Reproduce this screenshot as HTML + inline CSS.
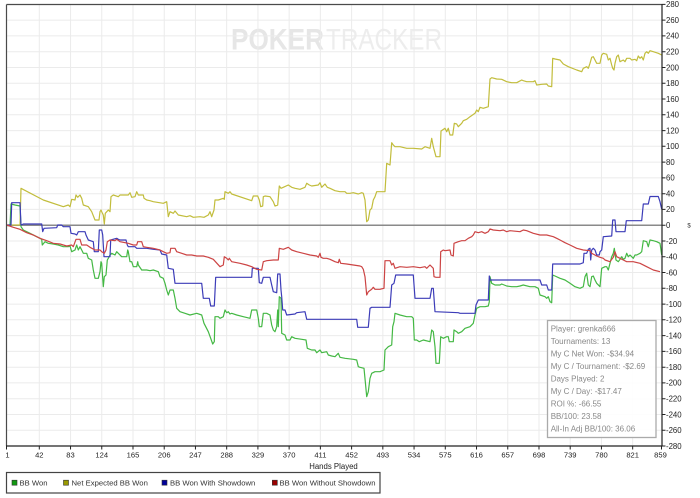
<!DOCTYPE html>
<html><head><meta charset="utf-8"><style>
html,body{margin:0;padding:0;background:#fff;}
svg{display:block;}
text{font-family:"Liberation Sans",Arial,sans-serif;}
</style></head><body>
<svg width="700" height="498" viewBox="0 0 700 498" xmlns="http://www.w3.org/2000/svg">
<rect width="700" height="498" fill="#fff"/>
<text x="231" y="49.3" font-size="30" font-weight="bold" fill="#e6e6e6" textLength="93" lengthAdjust="spacingAndGlyphs">POKER</text>
<text x="326" y="49.3" font-size="30" fill="#ededed" textLength="116" lengthAdjust="spacingAndGlyphs">TRACKER</text>
<path stroke="#ebebeb" stroke-width="1" fill="none" d="M39.3 4.5V446M70.53 4.5V446M101.76 4.5V446M132.99 4.5V446M164.22 4.5V446M195.45 4.5V446M226.68 4.5V446M257.91 4.5V446M289.14 4.5V446M320.37 4.5V446M351.6 4.5V446M382.83 4.5V446M414.06 4.5V446M445.29 4.5V446M476.52 4.5V446M507.75 4.5V446M538.98 4.5V446M570.21 4.5V446M601.44 4.5V446M632.67 4.5V446
M6.5 20.1H662M6.5 35.9H662M6.5 51.7H662M6.5 67.5H662M6.5 83.2H662M6.5 99H662M6.5 114.8H662M6.5 130.6H662M6.5 146.3H662M6.5 162.1H662M6.5 177.9H662M6.5 193.7H662M6.5 209.4H662M6.5 241H662M6.5 256.7H662M6.5 272.5H662M6.5 288.3H662M6.5 304.1H662M6.5 319.8H662M6.5 335.6H662M6.5 351.4H662M6.5 367.2H662M6.5 382.9H662M6.5 398.7H662M6.5 414.5H662M6.5 430.3H662"/>
<line x1="6.5" y1="225.2" x2="662" y2="225.2" stroke="#8a8a8a" stroke-width="1.5"/>
<g fill="none" stroke-width="1.2" stroke-linejoin="round">
<polyline stroke="#c2bd3c" points="6.5,225 20,225 21,188.3 43.3,200 63.3,206.7 68.3,205 70,206.7 71.7,199.3 75,200 76,195 77.7,197.3 80,195 81.7,198.3 83.3,205 88.3,206.7 91.7,211.7 95,220 99,220 100,211.7 101,210 101.7,211.7 103.3,215 104.3,224 105.3,213.3 108.3,210 110,211.7 111,196.7 113.3,195 118.3,196.7 120,195 128.3,195 130,192.7 131.7,197.3 135,196.7 136.7,191.7 138.3,195 143.3,195 144,198.3 146.7,200 150,200.7 153.3,201.7 163.3,203.3 166.7,201.7 168.3,216.7 170,211.7 173.3,213.3 175,211 178.3,215 186.7,216.7 190,215.7 193.3,217.3 200,216.7 204,217.3 208.3,215 210,211.7 211.7,216.7 214,210 215,200 218.3,200 223.3,198.3 224.3,199.3 225,191.7 228.3,193.3 230,191.7 231.7,194 251.7,200.7 253.3,196 257.7,196 259.3,200 260.7,206.7 262.7,206 263.3,196.7 265,196 270,196.7 273.3,201.7 275,206 277.7,205 279.3,186 281,188.3 283.3,187.3 288.3,185 291.7,187.3 295,188.3 300,189.3 305,187.3 306.7,183.3 309.3,185 311.7,186 318.3,185 320,182.7 321.7,187.3 325,184 327.3,187.3 330,188.3 335,190.7 340,191.7 345,191.7 346.7,193.3 350,193.3 353.3,192.7 358.3,194 361.7,192.7 363.3,193.3 365,200 366.7,221.7 368.3,220 370,210 371.7,208.3 373.3,200 375,196.7 376.7,191.7 385,191.7 386.7,163.3 390,165 391.7,142.7 393.3,145 395,146.7 400,146.7 406.7,148.3 413.3,148.3 421.7,149 425,146.7 430,148.3 431.7,138.3 433.3,146.7 436,156.7 440,156.7 441,131 445,128.3 446.7,131.7 448.3,128.3 450,135 452.7,135 454.3,123.3 456.7,124 458.3,126.7 461.7,123.3 463.3,120.7 466.7,119.3 470,116.7 475,113.3 476.7,110 478.3,111.7 480,107.3 483.3,108.3 488.3,106.7 490,79 491.7,77.7 496.7,79 501.7,79.3 506.7,81.7 511.7,82.7 516.7,82.7 521.7,80 523.3,80.7 526.7,81.7 533.3,81.7 535,80.7 536.7,85 541.7,84.3 546.7,84 548.3,86 551.7,86.7 552.7,58.3 555,59 560,60 563.3,64 568.3,66.7 576.7,70 581.7,71.7 583.3,68.3 586.7,66.7 588.3,68.3 590,63.3 591.7,57.3 593.3,56.7 595,60 596.7,63.3 600,63.3 601.7,55 603.3,53.3 606.7,54.3 608.3,60 610,58.3 611.7,65 612.7,68.3 614,70 615,63.3 616.7,56.7 618.3,55 620,61.7 623.3,60 625,61.7 626.7,58.3 630,58.3 631.7,60 635,59.3 636.7,60.7 638.3,56 640,58.3 641.7,56.7 643.3,60 645,53.3 646.7,51.7 648.3,53.3 650,50.7 653.3,51.7 658.3,53.3 661.7,55"/>
<polyline stroke="#44b844" points="6.7,225.7 10,225.7 11,204 15,205 20,206 21,226.7 23.3,230 30,233.3 36.7,236.7 40,238.3 41.7,239.3 42.3,245 45,241.7 48.3,243.3 53.3,244 58.3,245 63.3,246.7 68.3,246.7 70,246 71.7,251.7 75,250 76.7,245 78.3,250 80,246.7 81.7,250 83.3,253.3 86.7,253.3 88.3,258.3 91.7,260 93.3,270 95,278.3 98.3,278.3 100,271.7 101,261.7 101.7,263.3 103.3,286.7 104.3,276.7 106,275 107.3,260 108.3,258.3 110,255 111.7,253.3 115,255 116.7,251.7 118.3,253.3 121.7,256.7 126.7,256.7 127.7,250 128.3,251.7 130,261.7 131.7,261.7 133.3,266.7 136.7,266.7 137.7,261.7 138.3,265 141.7,270 146.7,270 150,270.7 153.3,270 158.3,271.7 160,276.7 163.3,278.3 165,283.3 166.7,290 168.3,295 170,290 173.3,290 175,298.3 176.7,308.3 180,311.7 185,313.3 190,315 196.7,313.3 201.7,315 204,323.3 208.3,331.7 210.7,338.3 212.7,344 214.3,341.7 215,316.7 218.3,316.7 220,318.3 223.3,316.7 225,310 226.7,312.7 228.3,311.7 230,314 231.7,313.3 236.7,315 243.3,316.7 250,318.3 251.7,310 256.7,310 258.3,318.3 259.3,326.7 261.7,326.7 263.3,313.3 266.7,313.3 270,315 271.7,325 273.3,330 275,331.7 276.7,326.7 277.7,310 278.3,326.7 279.3,296.7 281,298.3 281.7,333.3 285,335 286.7,340 290,340 291.7,336.7 295,338.3 301.7,339.3 306,340 307.3,348.3 311.7,350 315,350 316.7,352.7 320,350 321.7,352.7 326.7,351.7 328.3,355 331.7,356 335,356.7 338.3,353.3 340,357.3 345,358.3 353.3,359.3 356.7,360 358.3,366.7 360,367.3 364,368.3 365.3,381.7 366.7,396.7 368.3,391.7 370,378.3 371.7,373.3 375,371.7 380,371.7 384,370 385,350 388.3,346.7 391.7,345 392.7,326.7 394,321.7 395,313.3 400,315 406.7,316.7 411.7,316.7 413.3,318.3 414.3,340 416.7,340 419.3,341.7 423.3,340 430,341.7 431.7,330 433.3,331.7 435,346.7 436,363.3 439.3,363.3 440.7,336.7 443.3,338.3 446.7,336.7 448.3,336.7 449.3,341.7 453.3,341.7 454,330 456.7,331.7 458.3,333.3 461.7,331.7 465,328.3 470,326.7 473.3,323.3 475,315 476.7,308.3 480,306.7 485,306.7 488.3,306 489.3,301.7 490,276.7 491.7,283.3 495,285 500,285 501.7,284 506.7,286 511.7,286.7 516.7,286.7 520,286 523.3,285 530,286.7 535,286.7 538.3,288.3 540,295 545,296.7 546.7,298.3 548.3,296.7 550,301.7 551.7,302.7 552.7,275 555,276 560,278.3 565,280 570,283.3 575,286.7 580,288.3 583.3,286.7 585,276.7 586.7,273.3 588.3,285 590,286.7 591.7,276.7 593.3,276 595,280 596.7,283.3 600,286.7 601.7,268.3 605,266.7 606.7,266.7 608.3,270 610,263.3 611.7,256.7 613.3,253.3 614.3,248.3 616,260 618.3,261.7 620,259.3 621.7,256.7 623.3,259.3 625,258.3 626.7,253.3 628.3,256.7 630,255 631.7,256.7 633.3,258.3 635,255 636.7,255 640,253.3 641.7,251.7 643.3,240.7 646.7,241.7 648.3,246.7 650,240 653.3,240.7 656.7,241.7 660,243.3 661.7,255"/>
<polyline stroke="#3c3cb8" points="6.7,225 11,225 11.7,202.7 20,202.7 21,225 23.3,224 40,224 41.7,224 42.7,231.7 44,228.3 56.7,227.7 57.7,225 61.7,225 63.3,226.7 70,226.7 71,233.3 75,234 76.7,235 78.3,231.7 85,231.7 86,235 88.3,240 93.3,241.7 94.3,251.7 98.3,251.7 99.3,230 101.7,230 102.7,235 104,256.7 110,256.7 110.7,240 116.7,238.3 118.3,239.3 120,240 126,240 127.3,245 128.3,246.7 135,246.7 136.7,248.3 146.7,248.3 153.3,249.3 160,250 161.7,254 166.7,255 168.3,268.3 173.3,269.3 175,283.3 186.7,283.3 201.7,283.3 203.3,298.3 209.3,298.3 210.7,306 214.3,306 215.7,277.3 230,277.3 251.7,277.3 252.3,268.3 258.3,268.3 259.3,282.7 261.7,283.3 263.3,277.3 270,277.3 271.7,285 273.3,291.7 276.7,292.7 277.7,274 280,274 281,290 281.7,296.7 282.7,310 285,310 286.7,315 295,314 296.7,312.7 305,311.7 306.7,319.3 320,319.3 356.7,319.3 357.7,327.3 368.3,327.3 370,308.3 371.7,307.3 390,307.3 391.7,285 394,283.3 395.7,275 413.3,275 415,298.3 430,298.3 431.7,288.3 433.3,288.3 435,311.7 458.3,312.7 460,313.3 475,313.3 476,305 478.3,300 488.3,300 489.3,276 490,280 540,280 541.7,285 546.7,285 548.3,290 551.7,290 552.7,264 580,264 583.3,262.7 584,253.3 586.7,253.3 588.3,249.3 590,248.3 590.7,260 591.7,250 593.3,248.3 595,250 596.7,255 599.3,255 600,251.7 601.7,250 603.3,236.7 611.7,236 612.7,220 615,220 616,231.7 625,231.7 626.3,220.7 641.7,220.7 643.3,204 648.3,204 650,196.5 658.3,196.5 660,201.7 661.7,209.3"/>
<polyline stroke="#cc4444" points="6.7,225 13.3,227.3 20,229.3 26.7,232.7 33.3,235 40,238.3 46.7,240.7 53.3,243.3 60,244 66.7,246 71.7,245 73.3,246.7 76,239.3 80,239.3 81.7,245 86.7,245 90,247.3 95,250 100,250 101.7,251.7 104.3,253.3 106,250 107.3,241.7 110,240 115,240.7 116.7,239.3 120,241.7 128.3,243.3 133.3,245 136.7,245 137.7,241.7 141.7,241.7 143.3,246.7 146.7,247.3 153.3,248.3 160,250 163.3,251.7 166.7,253.3 170,252.7 170.7,248.3 175,248.3 176.7,251.7 181.7,253.3 186.7,255 191.7,255 196.7,256 203.3,256 208.3,257.3 213.3,259.3 220,266.7 223.3,265 224.3,256.7 226.7,258.3 228.3,260 229.3,258.3 231.7,261.7 240,263.3 246.7,265 251.7,266.7 256.7,269.3 261.7,270 263.3,261.7 266.7,260.7 273.3,260 278.3,260 279.3,248.3 283.3,249.3 288.3,247.3 291.7,250 296.7,251.7 303.3,253.3 310,255 316.7,256 318.3,257.3 320,253.3 321,257.3 323.3,258.3 326.7,258.3 330,259.3 335,261.7 338.3,262.7 339.3,259.3 340.7,263.3 346.7,264 353.3,265 360,266 361.7,266.7 363.3,269.3 365,276.7 366.7,295 368.3,291.7 371.7,289.3 373.3,287.3 375,289.3 380,289.3 384,288.3 385,260.7 390,260.7 391.7,265 393.3,263.3 395,268.3 400,266.7 406.7,267.3 413.3,266.7 420,267.7 425,266.7 426.7,268.3 430,265 433.3,268.3 434,276.7 436,277.3 440,277.3 440.7,251.7 443.3,250 445,250.7 450,250 451,255 453.3,256 454,243.3 458.3,241.7 461.7,240.7 465,240.7 468.3,238.3 471.7,236.7 473.3,235 475,231.7 478.3,232.7 481.7,231.7 485,233.3 488.3,231.7 490,229 493.3,230 500,230.7 503.3,230 506.7,231.7 510,230.7 520,231.7 523.3,230 526.7,230.7 533.3,233.3 540,235 546.7,235 553.3,236.7 556.7,238.3 560,240 565,242.7 570,245 576.7,248.3 583.3,250 590,250.7 591.7,253.3 596.7,256 600,257.3 603.3,258.3 605,260 610,261.7 613.3,257.3 615,251.7 616.7,256.7 620,258.3 623.3,260 626.7,261.7 633.3,261.7 640,263.3 646.7,266.7 653.3,270 660,271.7"/>
</g>
<line x1="6.5" y1="4.5" x2="662" y2="4.5" stroke="#4a4a4a" stroke-width="1.2"/>
<line x1="6.5" y1="4.5" x2="6.5" y2="446" stroke="#4a4a4a" stroke-width="1.2"/>
<line x1="662" y1="4" x2="662" y2="446.5" stroke="#222" stroke-width="1.2"/>
<line x1="6" y1="446" x2="662.5" y2="446" stroke="#222" stroke-width="1.2"/>
<path stroke="#222" stroke-width="1" fill="none" d="M662 4.4h3.5M662 20.1h3.5M662 35.9h3.5M662 51.7h3.5M662 67.5h3.5M662 83.2h3.5M662 99h3.5M662 114.8h3.5M662 130.6h3.5M662 146.3h3.5M662 162.1h3.5M662 177.9h3.5M662 193.7h3.5M662 209.4h3.5M662 225.2h3.5M662 241h3.5M662 256.7h3.5M662 272.5h3.5M662 288.3h3.5M662 304.1h3.5M662 319.8h3.5M662 335.6h3.5M662 351.4h3.5M662 367.2h3.5M662 382.9h3.5M662 398.7h3.5M662 414.5h3.5M662 430.3h3.5M662 446h3.5
M6.5 446v3.5M39.3 446v3.5M70.53 446v3.5M101.76 446v3.5M132.99 446v3.5M164.22 446v3.5M195.45 446v3.5M226.68 446v3.5M257.91 446v3.5M289.14 446v3.5M320.37 446v3.5M351.6 446v3.5M382.83 446v3.5M414.06 446v3.5M445.29 446v3.5M476.52 446v3.5M507.75 446v3.5M538.98 446v3.5M570.21 446v3.5M601.44 446v3.5M632.67 446v3.5M661.5 446v3.5"/>
<g font-size="7.8" fill="#222">
<text x="666" y="7.2">280</text>
<text x="666" y="22.9">260</text>
<text x="666" y="38.7">240</text>
<text x="666" y="54.5">220</text>
<text x="666" y="70.3">200</text>
<text x="666" y="86">180</text>
<text x="666" y="101.8">160</text>
<text x="666" y="117.6">140</text>
<text x="666" y="133.4">120</text>
<text x="666" y="149.1">100</text>
<text x="666" y="164.9">80</text>
<text x="666" y="180.7">60</text>
<text x="666" y="196.5">40</text>
<text x="666" y="212.2">20</text>
<text x="666" y="228">0</text>
<text x="666" y="243.8">-20</text>
<text x="666" y="259.5">-40</text>
<text x="666" y="275.3">-60</text>
<text x="666" y="291.1">-80</text>
<text x="666" y="306.9">-100</text>
<text x="666" y="322.6">-120</text>
<text x="666" y="338.4">-140</text>
<text x="666" y="354.2">-160</text>
<text x="666" y="370">-180</text>
<text x="666" y="385.7">-200</text>
<text x="666" y="401.5">-220</text>
<text x="666" y="417.3">-240</text>
<text x="666" y="433.1">-260</text>
<text x="666" y="448.8">-280</text>
</g>
<g font-size="7.6" fill="#222" text-anchor="middle">
<text x="7.5" y="457.3">1</text>
<text x="39.3" y="457.3">42</text>
<text x="70.53" y="457.3">83</text>
<text x="101.76" y="457.3">124</text>
<text x="132.99" y="457.3">165</text>
<text x="164.22" y="457.3">206</text>
<text x="195.45" y="457.3">247</text>
<text x="226.68" y="457.3">288</text>
<text x="257.91" y="457.3">329</text>
<text x="289.14" y="457.3">370</text>
<text x="320.37" y="457.3">411</text>
<text x="351.6" y="457.3">452</text>
<text x="382.83" y="457.3">493</text>
<text x="414.06" y="457.3">534</text>
<text x="445.29" y="457.3">575</text>
<text x="476.52" y="457.3">616</text>
<text x="507.75" y="457.3">657</text>
<text x="538.98" y="457.3">698</text>
<text x="570.21" y="457.3">739</text>
<text x="601.44" y="457.3">780</text>
<text x="632.67" y="457.3">821</text>
<text x="660.5" y="457.3">859</text>
</g>
<text x="689" y="227.5" font-size="6" fill="#333" text-anchor="middle">$</text>
<text x="333.5" y="469" font-size="7.8" fill="#222" text-anchor="middle">Hands Played</text>
<rect x="6.5" y="472.5" width="373.5" height="20.5" fill="#fff" stroke="#444" stroke-width="1.2"/>
<g stroke="#333" stroke-width="0.6">
<rect x="12" y="480.2" width="5" height="5" fill="#119911"/>
<rect x="63.5" y="480.2" width="5" height="5" fill="#999900"/>
<rect x="162" y="480.2" width="5" height="5" fill="#000099"/>
<rect x="272.3" y="480.2" width="5" height="5" fill="#990000"/>
</g>
<g font-size="7.7" fill="#333">
<text x="19.5" y="485.5">BB Won</text>
<text x="71.5" y="485.5">Net Expected BB Won</text>
<text x="170" y="485.5">BB Won With Showdown</text>
<text x="279.5" y="485.5">BB Won Without Showdown</text>
</g>
<rect x="547.5" y="320.5" width="108.5" height="117" fill="#fff" fill-opacity="0.88" stroke="#aaa" stroke-width="1.3"/>
<g font-size="8" fill="#888">
<text x="550.7" y="331.6">Player: grenka666</text>
<text x="550.7" y="344.1">Tournaments: 13</text>
<text x="550.7" y="356.6">My C Net Won: -$34.94</text>
<text x="550.7" y="369.1">My C / Tournament: -$2.69</text>
<text x="550.7" y="381.6">Days Played: 2</text>
<text x="550.7" y="394.1">My C / Day: -$17.47</text>
<text x="550.7" y="406.6">ROI %: -66.55</text>
<text x="550.7" y="419.1">BB/100: 23.58</text>
<text x="550.7" y="431.6">All-In Adj BB/100: 36.06</text>
</g>
</svg>
</body></html>
